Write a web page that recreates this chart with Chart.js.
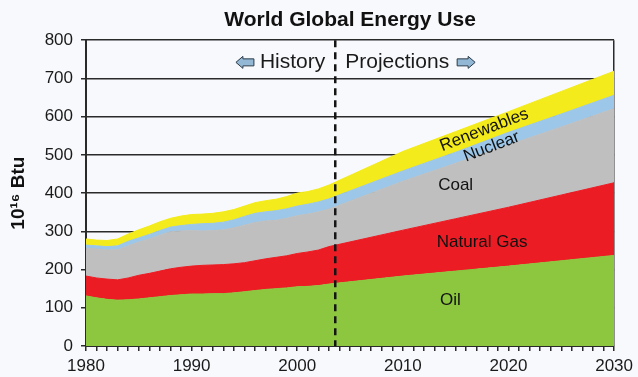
<!DOCTYPE html>
<html>
<head>
<meta charset="utf-8">
<script src="https://cdn.jsdelivr.net/npm/chart.js@4"></script>
<style>
  body { margin: 0; background: #f8f9fc; }
</style>
</head>
<body>
<canvas id="energy" width="638" height="377"></canvas>
<script>
/* World Global Energy Use — stacked areas, history + projections */

const years = [1980, 1981, 1982, 1983, 1984, 1985, 1986, 1987, 1988, 1989,
  1990, 1991, 1992, 1993, 1994, 1995, 1996, 1997, 1998, 1999,
  2000, 2001, 2002, 2003, 2010, 2015, 2020, 2025, 2030];

const oil = [131, 126, 122, 120, 121, 123, 126, 129, 132, 134,
  136, 136, 137, 137, 139, 142, 145, 148, 150, 152,
  155, 156, 158, 162, 183, 196, 209, 223, 237];
const naturalGas = [52, 52, 53, 53, 57, 62, 64, 67, 70, 72,
  73, 75, 75, 76, 76, 76, 78, 80, 82, 84,
  87, 90, 93, 98, 120, 137, 154, 172, 190];
const coal = [73, 76, 76, 79, 84, 87, 90, 94, 97, 95,
  93, 90, 90, 91, 94, 98, 100, 99, 97, 98,
  99, 99, 100, 98, 128, 145, 163, 178, 194];
const nuclear = [8, 8, 9, 10, 12, 11, 12, 12, 12, 14,
  16, 19, 19, 20, 21, 23, 24, 24, 25, 25,
  25, 26, 26, 27, 27, 29, 33, 34, 35];
const renewables = [16, 15, 16, 18, 19, 21, 22, 23, 23, 25,
  26, 25, 26, 27, 27, 27, 28, 29, 30, 32,
  34, 33, 34, 36, 51, 54, 54, 59, 63];

const yTicks = [0, 100, 200, 300, 400, 500, 600, 700, 800];
const decadeLabels = [1980, 1990, 2000, 2010, 2020, 2030];
const historyEnd = 2003.6;

const FONT = '"Liberation Sans", Arial, sans-serif';
Chart.defaults.font.family = FONT;
Chart.defaults.color = '#1a1a1a';

function series(label, values, color, fill) {
  return {
    label,
    data: years.map((yr, i) => ({ x: yr, y: values[i] })),
    backgroundColor: color,
    borderColor: color,
    borderWidth: 1,
    pointRadius: 0,
    tension: 0,
    fill,
  };
}

function drawArrow(ctx, x0, cy, w, dir) {
  const head = 7, hh = 6, sh = 3.5;
  ctx.beginPath();
  if (dir < 0) {
    ctx.moveTo(x0, cy);
    ctx.lineTo(x0 + head, cy - hh);
    ctx.lineTo(x0 + head, cy - sh);
    ctx.lineTo(x0 + w, cy - sh);
    ctx.lineTo(x0 + w, cy + sh);
    ctx.lineTo(x0 + head, cy + sh);
    ctx.lineTo(x0 + head, cy + hh);
  } else {
    ctx.moveTo(x0 + w, cy);
    ctx.lineTo(x0 + w - head, cy - hh);
    ctx.lineTo(x0 + w - head, cy - sh);
    ctx.lineTo(x0, cy - sh);
    ctx.lineTo(x0, cy + sh);
    ctx.lineTo(x0 + w - head, cy + sh);
    ctx.lineTo(x0 + w - head, cy + hh);
  }
  ctx.closePath();
  ctx.fillStyle = '#93b8d6';
  ctx.fill();
  ctx.lineWidth = 1;
  ctx.strokeStyle = '#2b3a48';
  ctx.stroke();
}

const overlay = {
  id: 'overlay',
  afterDatasetsDraw(chart) {
    const { ctx, chartArea, scales: { x, y } } = chart;
    ctx.save();

    // divider between history and projections
    const xd = x.getPixelForValue(historyEnd);
    ctx.strokeStyle = '#151515';
    ctx.lineWidth = 2.5;
    ctx.setLineDash([7, 5]);
    ctx.beginPath();
    ctx.moveTo(xd, chartArea.top);
    ctx.lineTo(xd, chartArea.bottom);
    ctx.stroke();
    ctx.setLineDash([]);

    // History / Projections headers
    const hy = y.getPixelForValue(742);
    ctx.font = '21px ' + FONT;
    ctx.fillStyle = '#1a1a1a';
    ctx.textBaseline = 'middle';
    ctx.textAlign = 'right';
    ctx.fillText('History', xd - 10, hy);
    const hw = ctx.measureText('History').width;
    drawArrow(ctx, xd - 10 - hw - 24, hy, 18, -1);
    ctx.fillStyle = '#1a1a1a';
    ctx.textAlign = 'left';
    ctx.fillText('Projections', xd + 10, hy);
    const pw = ctx.measureText('Projections').width;
    drawArrow(ctx, xd + 10 + pw + 8, hy, 18, 1);

    // fuel labels
    ctx.fillStyle = '#111';
    ctx.textAlign = 'center';
    ctx.font = '17px ' + FONT;
    ctx.fillText('Oil', x.getPixelForValue(2014.5), y.getPixelForValue(120));
    ctx.fillText('Natural Gas', x.getPixelForValue(2017.5), y.getPixelForValue(270));
    ctx.fillText('Coal', x.getPixelForValue(2015), y.getPixelForValue(420));

    const angle = -21 * Math.PI / 180;
    [['Renewables', 2017.7, 565], ['Nuclear', 2018.4, 521]].forEach(([t, yr, v]) => {
      ctx.save();
      ctx.translate(x.getPixelForValue(yr), y.getPixelForValue(v));
      ctx.rotate(angle);
      ctx.fillText(t, 0, 0);
      ctx.restore();
    });

    ctx.restore();
  }
};

new Chart(document.getElementById('energy'), {
  type: 'line',
  data: {
    datasets: [
      series('Oil', oil, '#8dc63f', 'origin'),
      series('Natural Gas', naturalGas, '#ec1c24', '-1'),
      series('Coal', coal, '#bfbfbf', '-1'),
      series('Nuclear', nuclear, '#9cc7e8', '-1'),
      series('Renewables', renewables, '#f3eb1b', '-1'),
    ]
  },
  options: {
    responsive: false,
    animation: false,
    layout: { padding: { right: 22 } },
    scales: {
      x: {
        type: 'linear',
        min: decadeLabels[0],
        max: decadeLabels[decadeLabels.length - 1],
        afterFit: s => { s.height = 31; },
        grid: {
          color: c => (c.tick && c.tick.value === decadeLabels[decadeLabels.length - 1]) ? '#2a2a2a' : 'rgba(0,0,0,0)',
          tickColor: '#2a2a2a',
          tickLength: 5,
          lineWidth: 1.5,
        },
        border: { display: true, color: '#2a2a2a', width: 2 },
        ticks: {
          stepSize: 1,
          autoSkip: false,
          maxRotation: 0,
          padding: 5,
          font: { size: 17 },
          callback: v => decadeLabels.includes(v) ? String(v) : '',
        }
      },
      y: {
        stacked: true,
        min: yTicks[0],
        max: yTicks[yTicks.length - 1],
        afterFit: s => { s.width = 86; },
        grid: { color: '#2a2a2a', lineWidth: 1.5, tickLength: 5 },
        border: { display: true, color: '#2a2a2a', width: 2 },
        ticks: {
          stepSize: 100,
          padding: 8,
          font: { size: 17 },
          callback: v => yTicks.includes(v) ? String(v) : '',
        },
        title: {
          display: true,
          text: '10¹⁶ Btu',
          color: '#111',
          font: { size: 19, weight: 'bold' },
          padding: { top: 7 },
        }
      }
    },
    plugins: {
      legend: { display: false },
      tooltip: { enabled: false },
      title: {
        display: true,
        fullSize: false,
        text: 'World Global Energy Use',
        color: '#111',
        font: { size: 21, weight: 'bold' },
        padding: { top: 8, bottom: 7 },
      }
    }
  },
  plugins: [overlay]
});
</script>
</body>
</html>
